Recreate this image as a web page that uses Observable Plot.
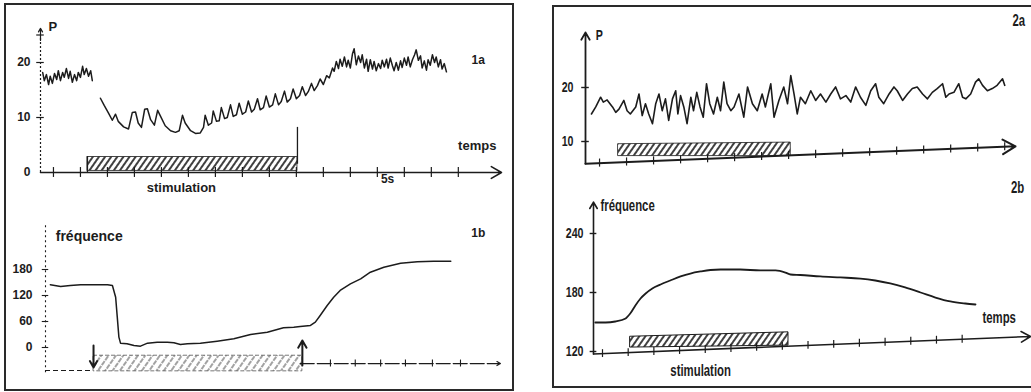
<!DOCTYPE html>
<html><head><meta charset="utf-8">
<script src="https://cdn.jsdelivr.net/npm/d3@7"></script>
<script src="https://cdn.jsdelivr.net/npm/@observablehq/plot@0.6"></script>
<style>
html,body{margin:0;padding:0;background:#fff;}
#root{position:relative;width:1031px;height:392px;overflow:hidden;}
.cell{position:absolute;}
.cell svg{max-width:none !important;}
.frame{position:absolute;border:2px solid #2a2a2a;box-sizing:border-box;pointer-events:none;}
</style></head><body>
<svg width="0" height="0" style="position:absolute">
 <defs>
  <pattern id="hatch" patternUnits="userSpaceOnUse" width="5" height="5" patternTransform="rotate(35)">
   <rect width="5" height="5" fill="#fff"/>
   <line x1="1" y1="0" x2="1" y2="5" stroke="#1e1e1e" stroke-width="1.7"/>
  </pattern>
  <pattern id="hatchLight" patternUnits="userSpaceOnUse" width="6" height="6" patternTransform="rotate(35)">
   <rect width="6" height="6" fill="#fff"/>
   <line x1="1" y1="0" x2="1" y2="6" stroke="#666" stroke-width="1.2" stroke-dasharray="3,1"/>
  </pattern>
 </defs>
</svg>
<div id="root">
 <div class="cell" id="p1a" style="left:0;top:0"></div>
 <div class="cell" id="p1b" style="left:0;top:195px"></div>
 <div class="cell" id="p2a" style="left:540px;top:0"></div>
 <div class="cell" id="p2b" style="left:540px;top:180px"></div>
 <div class="frame" style="left:4px;top:3px;width:510px;height:388px"></div>
 <div class="frame" style="left:552px;top:5px;width:490px;height:383px"></div>
</div>
<script>
// ---------- DATA ----------
// Panel 1a : pressure P vs time (s)
const trace1aPre = [[-1.20,18.2],[-1.17,16.7],[-1.13,17.8],[-1.09,16.0],[-1.06,17.5],[-1.02,16.2],[-0.98,18.0],[-0.94,16.9],[-0.91,18.5],[-0.87,16.7],[-0.83,18.2],[-0.80,17.3],[-0.76,18.9],[-0.72,17.1],[-0.69,18.4],[-0.65,16.4],[-0.61,17.8],[-0.57,16.7],[-0.54,18.2],[-0.50,17.3],[-0.46,19.3],[-0.43,17.8],[-0.39,18.9],[-0.35,17.5],[-0.31,18.5],[-0.28,16.7]];
const trace1aPost = [[-0.13,13.5],[-0.06,12.2],[0.02,10.8],[0.09,9.5],[0.15,10.6],[0.20,9.3],[0.30,8.3],[0.39,7.9],[0.46,10.9],[0.52,11.0],[0.57,9.0],[0.63,8.2],[0.69,11.5],[0.74,11.6],[0.80,9.6],[0.87,8.6],[0.93,11.3],[0.98,10.3],[1.07,8.5],[1.17,7.6],[1.26,7.3],[1.33,7.6],[1.39,10.4],[1.44,9.0],[1.54,7.6],[1.63,7.1],[1.72,7.2],[1.78,8.2],[1.81,10.4],[1.87,8.6],[1.93,9.0],[1.96,11.2],[2.02,9.3],[2.07,9.4],[2.11,11.8],[2.17,9.8],[2.22,10.0],[2.28,12.3],[2.33,10.2],[2.39,10.5],[2.44,12.6],[2.50,10.6],[2.56,11.0],[2.61,13.0],[2.67,11.0],[2.72,11.5],[2.78,13.4],[2.83,11.4],[2.89,11.8],[2.94,13.9],[3.00,11.9],[3.06,12.3],[3.11,14.3],[3.17,12.3],[3.22,12.9],[3.28,14.8],[3.33,12.8],[3.39,13.4],[3.44,15.2],[3.50,13.4],[3.56,14.0],[3.61,15.6],[3.67,14.0],[3.72,14.7],[3.78,16.2],[3.83,14.9],[3.89,15.8],[3.94,17.0],[4.00,16.0],[4.06,17.6],[4.11,17.2],[4.17,19.0],[4.20,18.4],[4.24,20.2],[4.28,18.9],[4.31,20.6],[4.35,19.3],[4.39,21.0],[4.43,19.2],[4.46,20.4],[4.50,19.0],[4.54,21.6],[4.57,22.5],[4.61,19.6],[4.65,21.2],[4.69,20.0],[4.72,21.4],[4.76,19.0],[4.80,20.6],[4.83,18.4],[4.87,20.5],[4.91,18.8],[4.94,20.2],[4.98,18.5],[5.02,19.8],[5.06,18.9],[5.09,20.4],[5.13,19.2],[5.17,20.6],[5.20,19.0],[5.24,20.8],[5.28,19.4],[5.31,18.5],[5.35,20.0],[5.39,18.6],[5.43,20.3],[5.46,19.1],[5.50,20.8],[5.54,19.5],[5.57,21.0],[5.61,19.2],[5.65,20.5],[5.69,21.4],[5.72,22.3],[5.76,20.4],[5.80,21.2],[5.83,19.0],[5.87,20.3],[5.91,18.6],[5.94,20.5],[5.98,19.5],[6.02,21.4],[6.06,20.0],[6.09,21.0],[6.13,19.2],[6.17,20.5],[6.20,18.8],[6.24,19.8],[6.28,18.3]];
const yTicks1a = [0, 10, 20];
const xTicks1a = [-1,-0.5,0,0.5,1,1.5,2,2.5,3,3.5,4,4.5,5,5.5,6,6.5];
const stim1a = [{t1:-0.37, t2:3.52, lo:0.3, hi:2.8}];
const stimEdges1a = [{t:-0.37, lo:0, hi:2.9}, {t:3.52, lo:1.5, hi:8.2}];

// Panel 1b : fréquence vs time
const trace1b = [[-1.06,145],[-0.87,141],[-0.69,143],[-0.50,145],[-0.31,145],[-0.13,145],[0.00,145],[0.09,143],[0.15,116],[0.18,70],[0.21,24],[0.24,10],[0.36,8.5],[0.49,4.6],[0.61,3.1],[0.74,10],[0.92,12.3],[1.11,12.3],[1.23,10.8],[1.35,6.9],[1.48,8.5],[1.72,10],[2.03,14.6],[2.34,20],[2.65,30],[2.96,35.4],[3.26,45.4],[3.45,46.9],[3.57,48.5],[3.76,50.8],[3.85,58.5],[3.94,73.9],[4.07,96.9],[4.19,116],[4.31,131.6],[4.50,147],[4.69,158.5],[4.87,173.8],[5.12,185.3],[5.43,194.6],[5.74,197.7],[6.04,199.2],[6.36,199.2]];
const yTicks1b = [0, 60, 120, 180];
const xTicks1b = [4.13, 4.59, 5.06, 5.52, 6.02, 6.54];
const stim1b = [{t1:-0.26, t2:3.61, lo:-55, hi:-19}];
const arrows1b = [{t:-0.26, from:4.6, to:-46}, {t:3.61, from:-41.5, to:16.2}];

// Panel 2a : pressure P vs time
const trace2a = [[-0.15,15.1],[-0.07,16.4],[0.02,18.2],[0.07,17.3],[0.14,17.7],[0.24,16.4],[0.30,15.4],[0.36,16.0],[0.45,17.6],[0.51,15.7],[0.57,15.1],[0.67,16.4],[0.73,18.8],[0.79,14.8],[0.85,17.0],[0.91,15.1],[0.98,13.3],[1.04,17.0],[1.10,18.8],[1.16,15.7],[1.22,17.9],[1.28,13.9],[1.35,17.9],[1.41,19.4],[1.45,15.1],[1.50,18.5],[1.56,16.4],[1.62,13.3],[1.69,18.2],[1.74,15.7],[1.80,19.1],[1.86,16.4],[1.92,14.5],[1.98,20.7],[2.04,17.0],[2.11,15.1],[2.18,18.2],[2.24,15.7],[2.30,21.0],[2.36,17.0],[2.43,15.7],[2.49,16.4],[2.58,18.8],[2.67,14.5],[2.74,20.1],[2.83,17.0],[2.92,15.7],[3.01,18.8],[3.07,16.4],[3.17,20.7],[3.23,14.5],[3.32,17.6],[3.41,20.1],[3.48,17.0],[3.54,22.2],[3.60,18.8],[3.66,15.1],[3.72,18.2],[3.81,17.0],[3.91,19.4],[4.00,17.6],[4.09,18.8],[4.19,17.3],[4.28,18.8],[4.37,20.1],[4.46,17.9],[4.56,18.5],[4.65,17.3],[4.74,20.1],[4.83,18.2],[4.93,16.7],[5.02,19.4],[5.11,20.7],[5.17,18.2],[5.26,17.0],[5.36,18.8],[5.45,20.1],[5.51,19.4],[5.61,17.6],[5.70,18.8],[5.79,19.8],[5.88,20.1],[5.98,18.8],[6.07,17.9],[6.16,19.1],[6.25,19.8],[6.35,20.7],[6.41,18.2],[6.47,18.8],[6.56,19.1],[6.65,20.7],[6.72,18.2],[6.78,17.9],[6.87,18.8],[6.96,21.0],[7.02,21.6],[7.09,20.4],[7.18,19.4],[7.27,19.8],[7.36,20.4],[7.46,21.6],[7.50,20.4]];
const yTicks2a = [10, 20];
const xTicks2a = [0,0.5,1,1.5,2,2.5,3,3.5,4,4.5,5,5.5,6,6.5,7,7.5];
const axis2a = [{t:-0.26, v:5.9}, {t:7.7, v:9.1}];
const stim2a = [{t:0.35, lo:7.3, hi:9.5}, {t:3.54, lo:7.3, hi:9.8}];

// Panel 2b : fréquence vs time
const trace2b = [[-0.14,149.5],[0.06,149.5],[0.25,150.5],[0.45,153.6],[0.54,158.6],[0.64,166.8],[0.74,173.9],[0.84,179],[0.97,184.1],[1.13,188.1],[1.32,192.2],[1.52,196.3],[1.71,199.3],[1.91,201.4],[2.10,202.9],[2.30,203.4],[2.68,203.4],[3.07,202.4],[3.37,202.4],[3.56,200.3],[3.66,198.3],[3.85,197.8],[4.24,196.3],[4.63,195.3],[5.02,194.2],[5.31,192.2],[5.60,189.2],[5.89,185.1],[6.19,180],[6.48,174.9],[6.77,170.9],[7.06,168.8],[7.26,167.8]];
const yTicks2b = [120, 180, 240];
const xTicks2b = [0,0.5,1,1.5,2,2.5,3,3.5,4,4.5,5,5.5,6,6.5,7];
const axis2b = [{t:-0.175, v:117.5}, {t:8.33, v:135.3}];
const stim2b = [{t:0.545, lo:124, hi:135}, {t:3.62, lo:126, hi:139.5}];

// Text labels
const labels1a = [
  {t:-1.09, v:26.5, s:"P", anchor:"start", size:13},
  {t:6.87, v:20.4, s:"1a", anchor:"middle", size:12},
  {t:6.85, v:4.9, s:"temps", anchor:"middle", size:13},
  {t:5.19, v:-1.2, s:"5s", anchor:"middle", size:12},
  {t:1.37, v:-2.8, s:"stimulation", anchor:"middle", size:13}
];
const labels1b = [
  {t:-0.96, v:256, s:"fréquence", anchor:"start", size:14},
  {t:6.87, v:265, s:"1b", anchor:"middle", size:12}
];
const labels2a = [
  {t:-0.07, v:29.6, s:"P", anchor:"start", size:15},
  {t:7.76, v:32.4, s:"2a", anchor:"middle", size:16}
];
const labels2b = [
  {t:-0.04, v:268.5, s:"fréquence", anchor:"start", size:16},
  {t:7.72, v:154.6, s:"temps", anchor:"middle", size:16},
  {t:1.91, v:100.7, s:"stimulation", anchor:"middle", size:16},
  {t:8.08, v:286.8, s:"2b", anchor:"middle", size:16}
];

// ---------- DRAWING ----------
const ink = "#1c1c1c";
const sans = "Liberation Sans, Arial, sans-serif";
const narrow = "Liberation Sans Narrow, Liberation Sans, Arial, sans-serif";
const pts = (arr, seg) => arr.map(([t, v]) => ({t, v, seg}));
const texts = (rows, family) => ["start","middle","end"].map(a =>
  Plot.text(rows.filter(r => r.anchor === a), {x:"t", y:"v", text:"s", textAnchor:a, fontSize:"size",
    fontWeight:"bold", fontFamily:family, fill:ink}));
const mount = (id, el) => document.getElementById(id).appendChild(el);
// the right-hand figure uses a condensed typeface: narrow its text
function condense(id, k) {
  document.querySelectorAll("#" + id + " text").forEach(el => {
    const w = el.getComputedTextLength();
    if (w > 0) {
      el.setAttribute("textLength", (w * k).toFixed(1));
      el.setAttribute("lengthAdjust", "spacingAndGlyphs");
    }
  });
}

// 1a
mount("p1a", Plot.plot({
  width:520, height:195, marginLeft:40, marginRight:19, marginTop:34.5, marginBottom:23,
  x:{domain:[-1.24, 7.3], axis:null}, y:{domain:[0, 25], axis:null},
  style:{background:"transparent", fontFamily:sans, color:ink},
  marks:[
    Plot.rect(stim1a, {x1:"t1", x2:"t2", y1:"lo", y2:"hi", fill:"url(#hatch)", stroke:ink, strokeWidth:0.8}),
    Plot.ruleX(stimEdges1a, {x:"t", y1:"lo", y2:"hi", stroke:ink, strokeWidth:1.3}),
    Plot.ruleX([-1.24], {y1:0, y2:24.5, stroke:ink, strokeWidth:1.2, strokeDasharray:"2,2"}),
    Plot.arrow([{t:-1.24}], {x1:"t", x2:"t", y1:24, y2:26.2, stroke:ink, strokeWidth:1.2, headLength:5}),
    Plot.ruleY([10, 20, 25], {x1:-1.31, x2:-1.17, stroke:ink, strokeWidth:1.2}),
    Plot.arrow([{a:-1.24, b:7.3}], {x1:"a", x2:"b", y1:0, y2:0, stroke:ink, strokeWidth:1.6, headLength:11}),
    Plot.ruleX(xTicks1a, {y1:-0.9, y2:0.9, stroke:ink, strokeWidth:1.2}),
    Plot.axisY(yTicks1a, {anchor:"left", tickSize:0, tickPadding:10, fontSize:12, fontWeight:"bold", label:null}),
    Plot.line(pts(trace1aPre, "pre").concat(pts(trace1aPost, "post")), {x:"t", y:"v", z:"seg", stroke:ink, strokeWidth:1.5}),
    texts(labels1a, sans)
  ]
}));

// 1b
mount("p1b", Plot.plot({
  width:520, height:197, marginLeft:45, marginRight:19, marginTop:74, marginBottom:45,
  x:{domain:[-1.15, 7.3], axis:null}, y:{domain:[0, 180], axis:null},
  style:{background:"transparent", fontFamily:sans, color:ink},
  marks:[
    Plot.ruleX([-1.15], {y1:-58, y2:281, stroke:ink, strokeWidth:1.1, strokeDasharray:"2,3"}),
    Plot.ruleY(yTicks1b, {x1:-1.21, x2:-1.09, stroke:ink, strokeWidth:1.1}),
    Plot.ruleY([-53], {x1:-1.15, x2:-0.26, stroke:ink, strokeWidth:1.1, strokeDasharray:"5,3"}),
    Plot.rect(stim1b, {x1:"t1", x2:"t2", y1:"lo", y2:"hi", fill:"url(#hatchLight)", stroke:"#555", strokeWidth:0.8, strokeDasharray:"4,2"}),
    Plot.arrow([{a:3.57, b:7.28}], {x1:"a", x2:"b", y1:-37, y2:-37, stroke:ink, strokeWidth:1.2, headLength:5, strokeDasharray:"14,3"}),
    Plot.ruleX(xTicks1b, {y1:-45, y2:-29, stroke:ink, strokeWidth:1.1}),
    Plot.arrow(arrows1b, {x1:"t", x2:"t", y1:"from", y2:"to", stroke:ink, strokeWidth:2, headLength:7}),
    Plot.axisY(yTicks1b, {anchor:"left", tickSize:0, tickPadding:13, fontSize:12, fontWeight:"bold", label:null}),
    Plot.line(pts(trace1b), {x:"t", y:"v", stroke:ink, strokeWidth:1.5}),
    texts(labels1b, sans)
  ]
}));

// 2a
const ax2a = d3.scaleLinear(axis2a.map(d => d.t), axis2a.map(d => d.v));
mount("p2a", Plot.plot({
  width:491, height:180, marginLeft:45, marginRight:16, marginTop:33, marginBottom:17.4,
  x:{domain:[-0.26, 7.7], axis:null}, y:{domain:[6, 30], axis:null},
  style:{background:"transparent", fontFamily:narrow, color:ink},
  marks:[
    Plot.areaY(stim2a, {x:"t", y1:"lo", y2:"hi", fill:"url(#hatch)", stroke:ink, strokeWidth:0.8}),
    Plot.arrow([{t:-0.26}], {x1:"t", x2:"t", y1:5.9, y2:30.2, stroke:ink, strokeWidth:1.8, headLength:7}),
    Plot.ruleY(yTicks2a, {x1:-0.33, x2:-0.19, stroke:ink, strokeWidth:1.4}),
    Plot.arrow([axis2a], {x1:d => d[0].t, y1:d => d[0].v, x2:d => d[1].t, y2:d => d[1].v, stroke:ink, strokeWidth:2, headLength:11}),
    Plot.ruleX(xTicks2a, {y1:d => ax2a(d) - 0.75, y2:d => ax2a(d) + 0.75, stroke:ink, strokeWidth:1.2}),
    Plot.axisY(yTicks2a, {anchor:"left", tickSize:0, tickPadding:12, fontSize:15, fontWeight:"bold", fontFamily:narrow, label:null}),
    Plot.line(pts(trace2a), {x:"t", y:"v", stroke:ink, strokeWidth:1.6}),
    texts(labels2a, narrow)
  ]
}));

// 2b
const ax2b = d3.scaleLinear(axis2b.map(d => d.t), axis2b.map(d => d.v));
mount("p2b", Plot.plot({
  width:491, height:212, marginLeft:53, marginRight:1, marginTop:53, marginBottom:41,
  x:{domain:[-0.175, 8.33], axis:null}, y:{domain:[120, 240], axis:null},
  style:{background:"transparent", fontFamily:narrow, color:ink},
  marks:[
    Plot.areaY(stim2b, {x:"t", y1:"lo", y2:"hi", fill:"url(#hatch)", stroke:ink, strokeWidth:1}),
    Plot.arrow([{t:-0.175}], {x1:"t", x2:"t", y1:117.5, y2:272, stroke:ink, strokeWidth:1.6, headLength:7}),
    Plot.ruleY(yTicks2b, {x1:-0.24, x2:-0.11, stroke:ink, strokeWidth:1.4}),
    Plot.arrow([axis2b], {x1:d => d[0].t, y1:d => d[0].v, x2:d => d[1].t, y2:d => d[1].v, stroke:ink, strokeWidth:1.6, headLength:10}),
    Plot.ruleX(xTicks2b, {y1:d => ax2b(d) - 4, y2:d => ax2b(d) + 4, stroke:ink, strokeWidth:1.2}),
    Plot.axisY(yTicks2b, {anchor:"left", tickSize:0, tickPadding:10, fontSize:15, fontWeight:"bold", fontFamily:narrow, label:null}),
    Plot.line(pts(trace2b), {x:"t", y:"v", stroke:ink, strokeWidth:1.8, curve:"monotone-x"}),
    texts(labels2b, narrow)
  ]
}));

condense("p2a", 0.71);
condense("p2b", 0.71);
</script>
</body></html>
